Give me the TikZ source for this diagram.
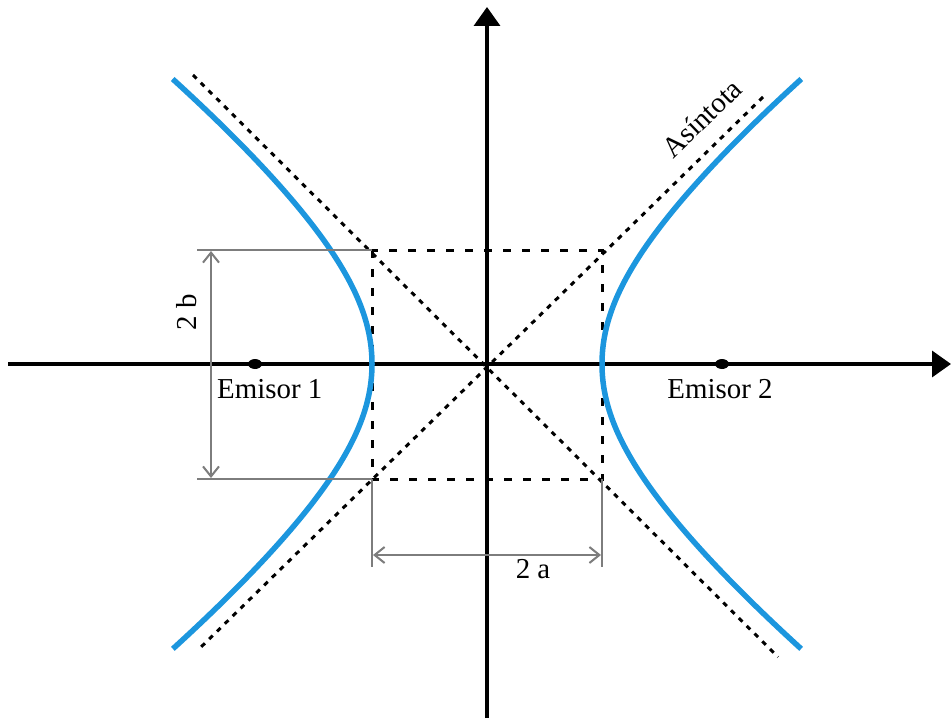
\documentclass[tikz,border=0pt]{standalone}
\usepackage{fontspec}
\setmainfont{Liberation Serif}
\newfontfamily\lblfont{Liberation Serif}
\usetikzlibrary{arrows.meta,shapes.geometric}
\definecolor{curveblue}{RGB}{28,150,222}
\definecolor{dimgray}{RGB}{125,125,125}
\begin{document}
\begin{tikzpicture}[x=1bp,y=-1bp,
 axis/.style={line width=3.5bp, -{Triangle[width=26bp,length=19bp]}},
 branch/.style={curveblue, line width=5.5bp},
 asym/.style={line width=3bp, dash pattern=on 5bp off 6bp},
 boxline/.style={line width=3bp, dash pattern=on 8bp off 11bp},
 dimline/.style={dimgray, line width=2bp},
 dimarrow/.style={dimline, {Straight Barb[length=10bp,width=16bp]}-{Straight Barb[length=10bp,width=16bp]}},
 lbl/.style={font=\lblfont\fontsize{29}{34}\selectfont, inner sep=0pt},
 focusdot/.style={ellipse, fill=black, minimum width=14bp, minimum height=10bp, inner sep=0pt}]
\useasboundingbox (0,0) rectangle (952,720);
% axes
\coordinate (xs) at (8,364);
\coordinate (xe) at (951,364);
\coordinate (ys) at (487,718);
\coordinate (ye) at (487,7);
\draw[axis] (xs) -- (xe);
\draw[axis] (ys) -- (ye);
% asymptotes
\coordinate (a1s) at (193,75);
\coordinate (a1e) at (778,657);
\coordinate (a2s) at (763,97);
\coordinate (a2e) at (198,650);
\draw[asym] (a1s) -- (a1e);
\draw[asym] (a2s) -- (a2e);
% box
\coordinate (bl) at (372,250);
\coordinate (tr) at (602,479);
\draw[boxline] (bl) rectangle (tr);
% branches
\draw[branch] plot[domain=-2.85:2.85, samples=121, variable=\t, smooth]
  ({487-100*sqrt(1.3225+\t*\t*(0.74+0.11*abs(\t)))},{364+100*\t});
\draw[branch] plot[domain=-2.85:2.85, samples=121, variable=\t, smooth]
  ({487+100*sqrt(1.3225+\t*\t*(0.74+0.11*abs(\t)))},{364+100*\t});
% foci
\node[focusdot] (f1) at (255,364) {};
\node[focusdot] (f2) at (722,364) {};
\node[lbl, anchor=base west] (e1) at (217,398) {Emisor 1};
\node[lbl, anchor=base] (e2) at (720,398) {Emisor 2};
% dimension 2b
\coordinate (t1) at (197,250);
\coordinate (t2) at (372,250);
\coordinate (u1) at (197,479);
\coordinate (u2) at (372,479);
\draw[dimline] (t1) -- (t2);
\draw[dimline] (u1) -- (u2);
\coordinate (bt) at (211,251);
\coordinate (bb) at (211,478);
\draw[dimarrow] (bt) -- (bb);
\node[lbl, rotate=90] (lb) at (187,312) {2 b};
% dimension 2a
\coordinate (v1) at (372,479);
\coordinate (v2) at (372,567);
\coordinate (w1) at (602,479);
\coordinate (w2) at (602,567);
\draw[dimline] (v1) -- (v2);
\draw[dimline] (w1) -- (w2);
\coordinate (al) at (373,555);
\coordinate (ar) at (601,555);
\draw[dimarrow] (al) -- (ar);
\node[lbl] (la) at (533,569) {2 a};
% asymptote label
\node[lbl, rotate=44] (las) at (702,118) {Asíntota};
\end{tikzpicture}
\end{document}
